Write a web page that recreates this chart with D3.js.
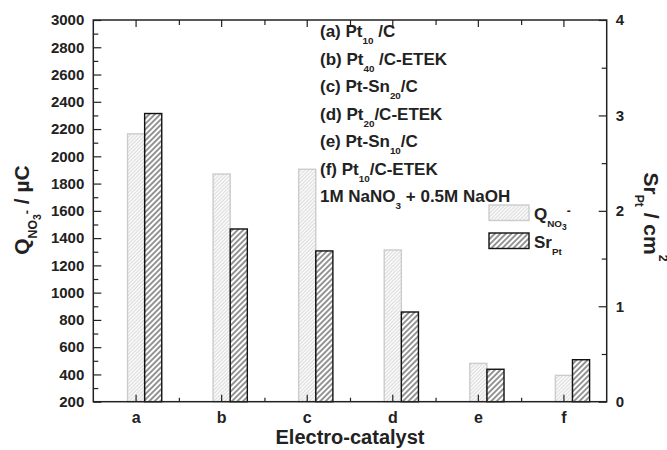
<!DOCTYPE html>
<html>
<head>
<meta charset="utf-8">
<script src="https://cdn.jsdelivr.net/npm/d3@7"></script>
<style>
  body { margin: 0; background: #fff; }
  svg { display: block; }
  text { font-family: "Liberation Sans", Arial, sans-serif; font-weight: bold; fill: #222; }
  .domain { display: none; }
</style>
</head>
<body>
<div id="chart"></div>
<script>
// categories and values
var catalysts = ["a", "b", "c", "d", "e", "f"];
var qValues = [2165, 1870, 1905, 1313, 481, 393];   // Q_NO3- / uC (left axis)
var srValues = [3.02, 1.81, 1.58, 0.94, 0.34, 0.44]; // Sr_Pt / cm2 (right axis)
var leftTicks = [200, 400, 600, 800, 1000, 1200, 1400, 1600, 1800, 2000, 2200, 2400, 2600, 2800, 3000];
var rightTicks = [0, 1, 2, 3, 4];

// text pieces: [text, level]; 0 normal, -1 sub, -2 sub of sub, 1 super, 2 super of sub, 3 high super
var noteLines = [
  [["(a) Pt", 0], ["10", -1], [" /C", 0]],
  [["(b) Pt", 0], ["40", -1], [" /C-ETEK", 0]],
  [["(c) Pt-Sn", 0], ["20", -1], ["/C", 0]],
  [["(d) Pt", 0], ["20", -1], ["/C-ETEK", 0]],
  [["(e) Pt-Sn", 0], ["10", -1], ["/C", 0]],
  [["(f) Pt", 0], ["10", -1], ["/C-ETEK", 0]],
  [["1M NaNO", 0], ["3", -1], [" + 0.5M NaOH", 0]]
];
var qLegend = [["Q", 0], ["NO", -1], ["3", -2], ["-", 1]];
var srLegend = [["Sr", 0], ["Pt", -1]];
var qTitle = [["Q", 0], ["NO", -1], ["3", -2], ["-", 2], [" / \u00b5C", 0]];
var srTitle = [["Sr", 0], ["Pt", -1], [" / cm", 0], ["2", 3]];

var width = 667, height = 450;
var margin = {top: 20, right: 60.3, bottom: 48.3, left: 93.3};
var innerWidth = width - margin.left - margin.right;
var innerHeight = height - margin.top - margin.bottom;

var svg = d3.select("#chart").append("svg")
  .attr("width", width)
  .attr("height", height);

// hatch patterns
var defs = svg.append("defs");
defs.append("pattern")
  .attr("id", "hatchQ")
  .attr("patternUnits", "userSpaceOnUse")
  .attr("width", 2.6).attr("height", 10)
  .attr("patternTransform", "rotate(45)")
  .append("line")
  .attr("x1", 1).attr("y1", 0).attr("x2", 1).attr("y2", 10)
  .attr("stroke", "#c4c4c4").attr("stroke-width", 0.8);
defs.append("pattern")
  .attr("id", "hatchSr")
  .attr("patternUnits", "userSpaceOnUse")
  .attr("width", 3.9).attr("height", 10)
  .attr("patternTransform", "rotate(45)")
  .append("line")
  .attr("x1", 1).attr("y1", 0).attr("x2", 1).attr("y2", 10)
  .attr("stroke", "#111").attr("stroke-width", 0.9);

var g = svg.append("g")
  .attr("transform", "translate(" + margin.left + "," + margin.top + ")");

var xScale = d3.scaleBand().domain(catalysts).range([0, innerWidth]).padding(0);
var yLeft = d3.scaleLinear().domain([200, 3000]).range([innerHeight, 0]);
var yRight = d3.scaleLinear().domain([0, 4]).range([innerHeight, 0]);
var bw = xScale.bandwidth();

function center(d) {
  return xScale(d) + bw / 2;
}

// superscript / subscript helper
function rich(sel, parts, size) {
  var shifts = {"0": 0, "-1": 0.42, "-2": 0.6, "1": -0.3, "2": 0.12, "3": -0.75};
  var scales = {"0": 1, "-1": 0.58, "-2": 0.5, "1": 0.7, "2": 0.6, "3": 0.58};
  var cur = 0;
  parts.forEach(function(p) {
    var target = shifts[p[1]] * size;
    sel.append("tspan")
      .attr("dy", target - cur)
      .style("font-size", (scales[p[1]] * size) + "px")
      .text(p[0]);
    cur = target;
  });
}

// bars
g.selectAll(".barQ")
  .data(catalysts)
  .enter().append("rect")
  .attr("class", "barQ")
  .attr("x", function(d) { return center(d) - bw * 0.1; })
  .attr("width", bw * 0.2)
  .attr("y", function(d, i) { return yLeft(qValues[i]); })
  .attr("height", function(d, i) { return innerHeight - yLeft(qValues[i]); })
  .attr("fill", "url(#hatchQ)")
  .attr("stroke", "#cccccc")
  .attr("stroke-width", 1.4);

g.selectAll(".barSr")
  .data(catalysts)
  .enter().append("rect")
  .attr("class", "barSr")
  .attr("x", function(d) { return center(d) + bw * 0.1; })
  .attr("width", bw * 0.2)
  .attr("y", function(d, i) { return yRight(srValues[i]); })
  .attr("height", function(d, i) { return innerHeight - yRight(srValues[i]); })
  .attr("fill", "url(#hatchSr)")
  .attr("stroke", "#111")
  .attr("stroke-width", 1.4);

// left axis (ticks inward)
g.append("g")
  .attr("class", "y axis left")
  .call(d3.axisLeft(yLeft).tickValues(leftTicks).tickSizeInner(-8).tickSizeOuter(0).tickPadding(9).tickFormat(d3.format("d")))
  .call(function(s) { s.selectAll("text").style("font-size", "15px"); });
g.append("g")
  .call(d3.axisLeft(yLeft).tickValues(leftTicks.slice(0, -1).map(function(v) { return v + 100; }))
    .tickSize(-5).tickFormat(""));

// right axis
g.append("g")
  .attr("transform", "translate(" + innerWidth + ",0)")
  .call(d3.axisRight(yRight).tickValues(rightTicks).tickSizeInner(-8).tickSizeOuter(0).tickPadding(9).tickFormat(d3.format("d")))
  .call(function(s) { s.selectAll("text").style("font-size", "15px"); });
g.append("g")
  .attr("transform", "translate(" + innerWidth + ",0)")
  .call(d3.axisRight(yRight).tickValues([0.5, 1.5, 2.5, 3.5]).tickSize(-5).tickFormat(""));

// bottom axis
var boundaries = catalysts.slice(1).map(function(d) { return xScale(d); });
var xLin = d3.scaleLinear().range([0, innerWidth]).domain([0, innerWidth]);
g.append("g")
  .attr("transform", "translate(0," + innerHeight + ")")
  .call(d3.axisBottom(xScale).tickSizeInner(-7).tickSizeOuter(0).tickPadding(10))
  .call(function(s) { s.selectAll("text").style("font-size", "16px"); });
g.append("g")
  .attr("transform", "translate(0," + innerHeight + ")")
  .call(d3.axisBottom(xLin).tickValues(boundaries).tickSize(-4).tickFormat(""));

// top axis
g.append("g")
  .call(d3.axisTop(xScale).tickSizeInner(-7).tickSizeOuter(0).tickFormat(""));
g.append("g")
  .call(d3.axisTop(xLin).tickValues(boundaries).tickSize(-5).tickFormat(""));

g.selectAll(".tick line").attr("stroke", "#222").attr("stroke-width", 1.2);

// frame
g.append("rect")
  .attr("width", innerWidth)
  .attr("height", innerHeight)
  .attr("fill", "none")
  .attr("stroke", "#222")
  .attr("stroke-width", 1.5);

// annotation text
noteLines.forEach(function(line, i) {
  var t = g.append("text")
    .attr("x", 320 - margin.left)
    .attr("y", 37 - margin.top + i * 27.5)
    .style("font-size", "17px");
  rich(t, line, 17);
});

// legend
var legend = g.append("g").attr("transform", "translate(" + (489 - margin.left) + "," + (205 - margin.top) + ")");
legend.append("rect").attr("width", 40).attr("height", 15.5)
  .attr("fill", "url(#hatchQ)").attr("stroke", "#cccccc").attr("stroke-width", 1.4);
legend.append("rect").attr("y", 28).attr("width", 40).attr("height", 15.5)
  .attr("fill", "url(#hatchSr)").attr("stroke", "#111").attr("stroke-width", 1.4);
rich(legend.append("text").attr("x", 45).attr("y", 15).style("font-size", "17px"), qLegend, 17);
rich(legend.append("text").attr("x", 45).attr("y", 43).style("font-size", "17px"), srLegend, 17);

// axis titles
svg.append("text")
  .attr("x", margin.left + innerWidth / 2)
  .attr("y", 444)
  .attr("text-anchor", "middle")
  .style("font-size", "20px")
  .text("Electro-catalyst");

var leftTitle = svg.append("text")
  .attr("transform", "translate(28.5,210) rotate(-90)")
  .attr("text-anchor", "middle")
  .style("font-size", "21px");
rich(leftTitle, qTitle, 21);

var rightTitle = svg.append("text")
  .attr("transform", "translate(643.5,217) rotate(90)")
  .attr("text-anchor", "middle")
  .style("font-size", "21px");
rich(rightTitle, srTitle, 21);
</script>
</body>
</html>
